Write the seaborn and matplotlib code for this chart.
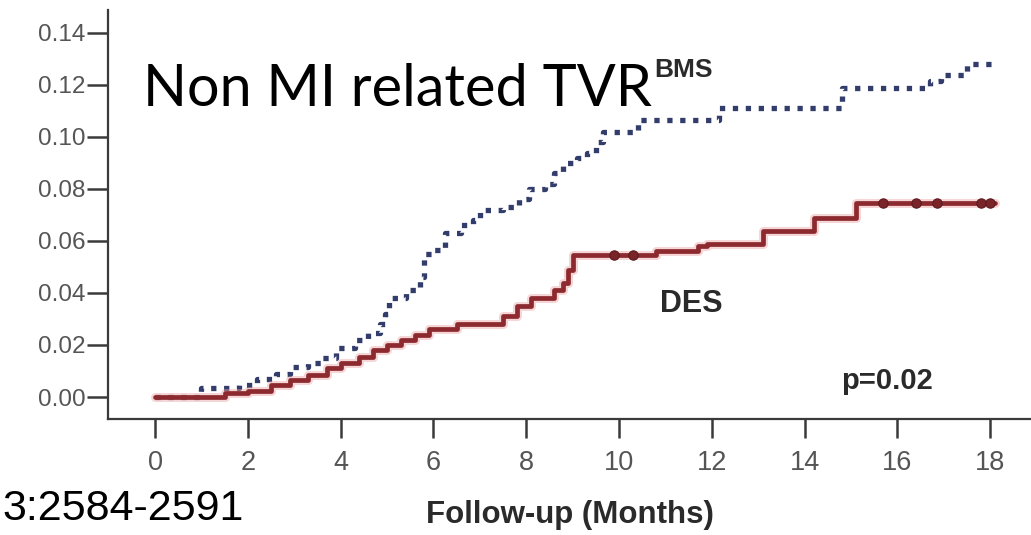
import numpy as np
import matplotlib
matplotlib.use("Agg")
import matplotlib.pyplot as plt
import seaborn as sns

# ---- data ----
bms_months = [0.0, 1.0, 1.8, 2.2, 2.6, 2.9, 3.3, 3.6, 3.9, 4.3, 4.6, 4.85, 4.95,
              5.05, 5.4, 5.7, 5.8, 6.0, 6.25, 6.6, 6.85, 7.0, 7.5, 7.85, 8.05,
              8.4, 8.6, 8.8, 9.1, 9.3, 9.5, 9.65, 10.4, 12.15, 14.8, 16.7,
              16.95, 17.5, 18.1]
bms_rate = [0.0, 0.0035, 0.0046, 0.007, 0.009, 0.0115, 0.013, 0.015, 0.019,
            0.022, 0.0246, 0.028, 0.032, 0.038, 0.041, 0.046, 0.055, 0.0565,
            0.063, 0.066, 0.068, 0.072, 0.073, 0.076, 0.080, 0.082, 0.086,
            0.090, 0.092, 0.094, 0.098, 0.102, 0.1065, 0.111, 0.119, 0.1215,
            0.124, 0.128, 0.128]

des_months = [0.0, 1.3, 1.5, 2.0, 2.5, 2.9, 3.3, 3.7, 4.0, 4.4, 4.7, 5.0, 5.3,
              5.6, 5.9, 6.5, 7.2, 7.5, 7.8, 8.1, 8.6, 8.8, 8.9, 9.0, 10.8,
              11.7, 11.9, 13.1, 14.2, 15.1, 18.1]
des_rate = [0.0, 0.0, 0.0015, 0.0025, 0.0046, 0.0065, 0.0085, 0.011, 0.013,
            0.0155, 0.018, 0.020, 0.022, 0.024, 0.026, 0.028, 0.028, 0.031,
            0.035, 0.038, 0.041, 0.044, 0.049, 0.0545, 0.056, 0.058, 0.059,
            0.064, 0.069, 0.0745, 0.0745]
des_censor_months = [9.9, 10.3, 15.7, 16.4, 16.85, 17.8, 18.0]

x_ticks = [0, 2, 4, 6, 8, 10, 12, 14, 16, 18]
x_tick_labels = ["0", "2", "4", "6", "8", "10", "12", "14", "16", "18"]
y_ticks = [0.00, 0.02, 0.04, 0.06, 0.08, 0.10, 0.12, 0.14]
y_tick_labels = ["0.00", "0.02", "0.04", "0.06", "0.08", "0.10", "0.12", "0.14"]

title_text = "Non MI related TVR"
citation_text = "3:2584-2591"
x_label = "Follow-up (Months)"
bms_label = "BMS"
des_label = "DES"
p_text = "p=0.02"

# ---- figure ----
sns.set_theme(style="white")
plt.rcParams["font.family"] = ["Liberation Sans", "DejaVu Sans"]

fig = plt.figure(figsize=(10.31, 5.35), dpi=100)
ax = fig.add_axes([0.1048, 0.2168, 0.8952, 0.7645])

# BMS: dotted line of navy squares (drawn first, DES sits on top)
sns.lineplot(x=bms_months, y=bms_rate, ax=ax, estimator=None,
             drawstyle="steps-post", color="#333d6b", linewidth=3.8,
             legend=False, zorder=2)
bms_line = ax.lines[-1]
bms_line.set_dashes((1.0, 1.45))
bms_line.set_dash_capstyle("butt")

# DES: solid dark red with soft halo
sns.lineplot(x=des_months, y=des_rate, ax=ax, estimator=None,
             drawstyle="steps-post", color="#e9a2a2", linewidth=6.5,
             alpha=0.45, legend=False, zorder=3)
sns.lineplot(x=des_months, y=des_rate, ax=ax, estimator=None,
             drawstyle="steps-post", color="#8c2a2f", linewidth=3.4,
             legend=False, zorder=4)
dm = np.array(des_months)
dr = np.array(des_rate)
idx = np.searchsorted(dm, des_censor_months, side="right") - 1
sns.scatterplot(x=des_censor_months, y=dr[idx], ax=ax, s=45, marker="o",
                color="#7a2429", edgecolor="#5a1a1e", linewidth=0.8,
                legend=False, zorder=5)

ax.set_xlim(-1.013, 18.88)
ax.set_ylim(-0.00846, 0.1488)
ax.set_xticks(x_ticks)
ax.set_xticklabels(x_tick_labels)
ax.set_yticks(y_ticks)
ax.set_yticklabels(y_tick_labels)

for s in ("top", "right"):
    ax.spines[s].set_visible(False)
for s in ("left", "bottom"):
    ax.spines[s].set_color("#3a3a3a")
    ax.spines[s].set_linewidth(1.6)

ax.tick_params(axis="y", direction="out", length=15, width=1.8,
               color="#3a3a3a", labelsize=17.5, labelcolor="#555555", pad=1,
               left=True)
ax.tick_params(axis="x", direction="out", length=14, width=1.8,
               color="#3a3a3a", labelsize=19.5, labelcolor="#555555", pad=8,
               bottom=True)
ax.grid(False)

# annotations
fig.text(143 / 1031, 1 - 106 / 535, title_text, fontsize=41.5,
         family=["Lato", "DejaVu Sans"], color="black", va="baseline",
         ha="left")
fig.text(2 / 1031, 1 - 520 / 535, citation_text, fontsize=31,
         family=["Liberation Sans", "DejaVu Sans"], color="black",
         va="baseline", ha="left")
fig.text(570 / 1031, 1 - 523 / 535, x_label, fontsize=22.5, fontweight="bold",
         color="#2a2a2a", va="baseline", ha="center")
fig.text(683 / 1031, 1 - 77 / 535, bms_label, fontsize=19, fontweight="bold",
         color="#2a2a2a", va="baseline", ha="center")
fig.text(691 / 1031, 1 - 312 / 535, des_label, fontsize=22, fontweight="bold",
         color="#2a2a2a", va="baseline", ha="center")
fig.text(887 / 1031, 1 - 389 / 535, p_text, fontsize=21, fontweight="bold",
         color="#2a2a2a", va="baseline", ha="center")

fig.savefig("out.png", dpi=100, facecolor="white")
